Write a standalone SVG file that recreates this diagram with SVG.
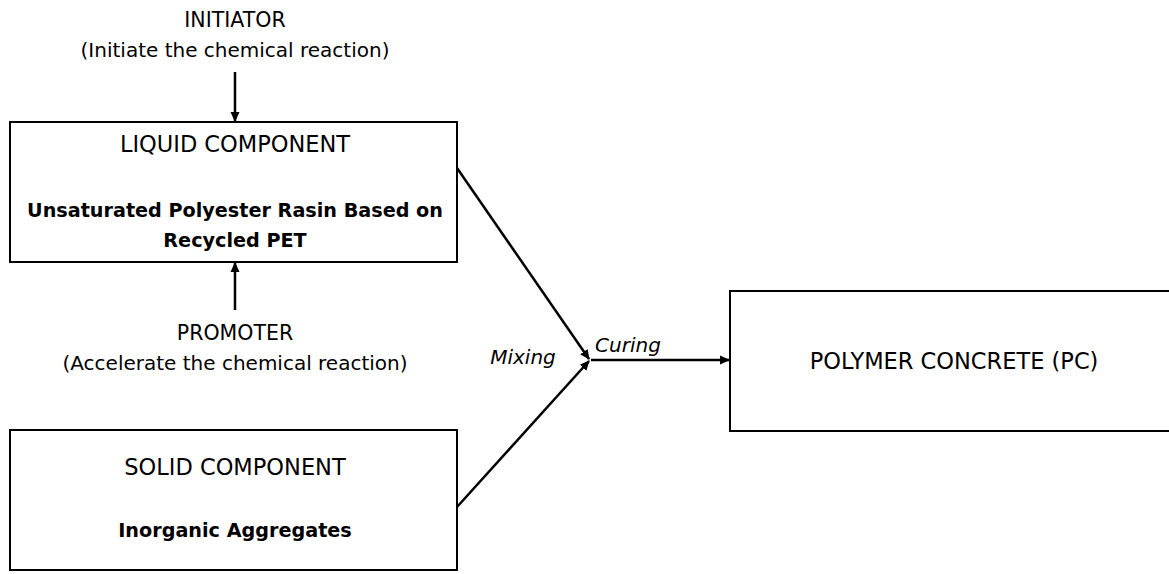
<svg xmlns="http://www.w3.org/2000/svg" width="1169" height="574" viewBox="0 0 1169 574">
<style>
text{font-family:"DejaVu Sans","Liberation Sans",sans-serif;font-size:20.5px;fill:#000;text-anchor:middle}
.h{font-size:22.5px}
.b{font-weight:bold;font-size:19.2px}
.i{font-style:italic;font-size:20px}
.box{fill:#fff;stroke:#000;stroke-width:2}
.c{stroke:#000;stroke-width:2.5;fill:none}
</style>
<defs>
<marker id="ah" markerWidth="12" markerHeight="12" refX="9" refY="6" orient="auto" markerUnits="userSpaceOnUse">
<path d="M0,1.5 L10,6 L0,10.5 Z" fill="#000"/>
</marker>
</defs>
<rect width="1169" height="574" fill="#fff"/>
<g id="initiator">
<text x="235" y="27">INITIATOR</text>
<text x="235" y="57" style="font-size:20px">(Initiate the chemical reaction)</text>
</g>
<g id="liquid">
<rect class="box" x="10" y="122" width="447" height="140"/>
<text class="h" x="235" y="152">LIQUID COMPONENT</text>
<text class="b" x="235" y="217">Unsaturated Polyester Rasin Based on</text>
<text class="b" x="235" y="247">Recycled PET</text>
</g>
<g id="promoter">
<text x="235" y="340">PROMOTER</text>
<text x="235" y="370" style="font-size:20px">(Accelerate the chemical reaction)</text>
</g>
<g id="solid">
<rect class="box" x="10" y="430" width="447" height="140"/>
<text class="h" x="235" y="475">SOLID COMPONENT</text>
<text class="b" x="235" y="537">Inorganic Aggregates</text>
</g>
<g id="pc">
<rect class="box" x="730" y="291" width="450" height="140"/>
<text class="h" x="954" y="369">POLYMER CONCRETE (PC)</text>
</g>
<g id="connectors">
<line class="c" x1="235" y1="72" x2="235" y2="121" marker-end="url(#ah)"/>
<line class="c" x1="235" y1="310" x2="235" y2="263" marker-end="url(#ah)"/>
<line class="c" x1="457" y1="168" x2="589" y2="359" marker-end="url(#ah)"/>
<line class="c" x1="457" y1="507" x2="589" y2="361" marker-end="url(#ah)"/>
<line class="c" x1="591" y1="360" x2="729" y2="360" marker-end="url(#ah)"/>
<text class="i" x="523" y="364">Mixing</text>
<text class="i" x="628" y="352">Curing</text>
</g>
</svg>
